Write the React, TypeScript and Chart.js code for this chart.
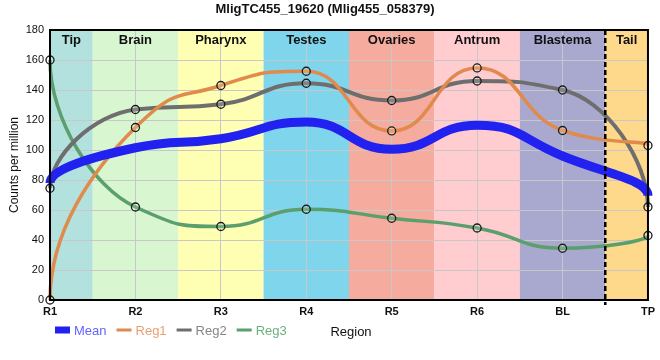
import React, { useEffect, useRef } from "react";
import { Chart, registerables } from "chart.js";

Chart.register(...registerables);

const chartTitle = "MligTC455_19620 (Mlig455_058379)";
const regions = ["R1", "R2", "R3", "R4", "R5", "R6", "BL", "TP"];
const meanValues = [78, 101.5, 107.5, 118.7, 100.5, 116.5, 96, 69.5];
const reg1Values = [0, 115, 143, 152.5, 112.7, 154.7, 113, 103];
const reg2Values = [74.5, 127, 130.5, 144.5, 133, 146, 140, 62];
const reg3Values = [160, 62, 49, 60.5, 54.5, 48, 34.5, 43];
const bandNames = ["Tip", "Brain", "Pharynx", "Testes", "Ovaries", "Antrum", "Blastema", "Tail"];
const bandColors = ["#b3e1de", "#d8f6cf", "#ffffb4", "#7fd5ec", "#f5ab9e", "#ffcccf", "#a9a9d0", "#ffd98b"];
const seriesNames = ["Mean", "Reg1", "Reg2", "Reg3"];
const seriesColors = ["#2222f0", "#e08a4c", "#6e6e6e", "#5a9f6c"];
const legendTextColors = ["#6464ff", "#e8a070", "#858585", "#6cb07e"];
const yMin = 0;
const yMax = 180;
const yStep = 20;

const FONT = "'Liberation Sans', Arial, sans-serif";

// monotone (Steffen) tangents at interior points
function interiorTangents(xs: number[], ys: number[]): number[] {
  const n = xs.length;
  const t = new Array(n).fill(0);
  const sign = (v: number) => (v < 0 ? -1 : 1);
  for (let i = 1; i < n - 1; i++) {
    const h0 = xs[i] - xs[i - 1];
    const h1 = xs[i + 1] - xs[i];
    const s0 = (ys[i] - ys[i - 1]) / h0;
    const s1 = (ys[i + 1] - ys[i]) / h1;
    const p = (s0 * h1 + s1 * h0) / (h0 + h1);
    t[i] = (sign(s0) + sign(s1)) * Math.min(Math.abs(s0), Math.abs(s1), 0.5 * Math.abs(p)) || 0;
  }
  return t;
}

const HANDLE = 0.5;
const END_HANDLE = 0.4;

const curvePlugin = {
  id: "smoothCurve",
  beforeDatasetsDraw(chart: any) {
    chart.data.datasets.forEach((_: any, di: number) => {
      const meta = chart.getDatasetMeta(di);
      if (!meta || !meta.dataset) return;
      meta.dataset.updateControlPoints(chart.chartArea, "x");
      const pts = meta.data;
      const n = pts.length;
      if (n < 3) return;
      const xs = pts.map((p: any) => p.x);
      const ys = pts.map((p: any) => p.y);
      const t = interiorTangents(xs, ys);
      for (let i = 1; i < n - 1; i++) {
        const hp = xs[i] - xs[i - 1];
        const hn = xs[i + 1] - xs[i];
        pts[i].cp1x = xs[i] - HANDLE * hp;
        pts[i].cp1y = ys[i] - HANDLE * hp * t[i];
        pts[i].cp2x = xs[i] + HANDLE * hn;
        pts[i].cp2y = ys[i] + HANDLE * hn * t[i];
      }
      pts[0].cp2x = xs[0];
      pts[0].cp2y = ys[0] + END_HANDLE * (ys[1] - ys[0]);
      pts[0].cp1x = xs[0];
      pts[0].cp1y = ys[0];
      pts[n - 1].cp1x = xs[n - 1];
      pts[n - 1].cp1y = ys[n - 1] + END_HANDLE * (ys[n - 2] - ys[n - 1]);
      pts[n - 1].cp2x = xs[n - 1];
      pts[n - 1].cp2y = ys[n - 1];
    });
  },
};

const decorPlugin = {
  id: "decor",
  beforeDraw(chart: any) {
    const { ctx, chartArea } = chart;
    const x = chart.scales.x;
    const n = regions.length;
    ctx.save();
    for (let i = 0; i < bandNames.length; i++) {
      const a = x.getPixelForValue(Math.max(i - 0.5, 0));
      const b = x.getPixelForValue(Math.min(i + 0.5, n - 1));
      ctx.fillStyle = bandColors[i];
      ctx.fillRect(a, chartArea.top, b - a, chartArea.bottom - chartArea.top);
    }
    ctx.restore();
  },
  beforeDatasetsDraw(chart: any) {
    const { ctx, chartArea } = chart;
    const x = chart.scales.x;
    const n = regions.length;
    ctx.save();
    ctx.font = `bold 13px ${FONT}`;
    ctx.fillStyle = "#111";
    ctx.textAlign = "center";
    ctx.textBaseline = "middle";
    for (let i = 0; i < bandNames.length; i++) {
      const a = x.getPixelForValue(Math.max(i - 0.5, 0));
      const b = x.getPixelForValue(Math.min(i + 0.5, n - 1));
      ctx.fillText(bandNames[i], (a + b) / 2, chartArea.top + 10);
    }
    ctx.restore();
  },
  afterDatasetsDraw(chart: any) {
    const { ctx, chartArea } = chart;
    const x = chart.scales.x;
    ctx.save();
    const dx = x.getPixelForValue(regions.length - 1.5);
    ctx.strokeStyle = "#000";
    ctx.lineWidth = 2.5;
    ctx.setLineDash([5, 3]);
    ctx.beginPath();
    ctx.moveTo(dx, chartArea.top);
    ctx.lineTo(dx, chartArea.bottom + 5);
    ctx.stroke();
    ctx.setLineDash([]);
    ctx.lineWidth = 2;
    ctx.strokeRect(chartArea.left, chartArea.top, chartArea.right - chartArea.left, chartArea.bottom - chartArea.top);
    ctx.restore();
  },
  afterDraw(chart: any) {
    const { ctx } = chart;
    ctx.save();
    ctx.font = `13px ${FONT}`;
    ctx.textBaseline = "middle";
    ctx.textAlign = "left";
    let lx = 55;
    const ly = 330;
    for (let i = 0; i < seriesNames.length; i++) {
      ctx.strokeStyle = seriesColors[i];
      ctx.lineWidth = i === 0 ? 7 : 3;
      ctx.beginPath();
      ctx.moveTo(lx, ly);
      ctx.lineTo(lx + 15, ly);
      ctx.stroke();
      ctx.fillStyle = legendTextColors[i];
      ctx.fillText(seriesNames[i], lx + 19, ly + 1);
      lx += 19 + ctx.measureText(seriesNames[i]).width + 10;
    }
    ctx.fillStyle = "#111";
    ctx.textAlign = "center";
    ctx.fillText("Region", 351, ly + 2);
    ctx.restore();
  },
};

export default function App() {
  const canvasRef = useRef<HTMLCanvasElement | null>(null);

  useEffect(() => {
    const canvas = canvasRef.current;
    if (!canvas) return;
    const pointStyle = {
      pointRadius: 4,
      pointBackgroundColor: "rgba(255,255,255,0.15)",
      pointBorderColor: "#1a1a1a",
      pointBorderWidth: 1.3,
    };
    const chart = new Chart(canvas, {
      type: "line",
      data: {
        labels: regions,
        datasets: [
          {
            label: seriesNames[0],
            data: meanValues,
            borderColor: seriesColors[0],
            borderWidth: 9,
            pointRadius: 0,
            cubicInterpolationMode: "monotone",
            clip: false as any,
          },
          {
            label: seriesNames[1],
            data: reg1Values,
            borderColor: seriesColors[1],
            borderWidth: 3.5,
            cubicInterpolationMode: "monotone",
            clip: false as any,
            ...pointStyle,
          },
          {
            label: seriesNames[2],
            data: reg2Values,
            borderColor: seriesColors[2],
            borderWidth: 4,
            cubicInterpolationMode: "monotone",
            clip: false as any,
            ...pointStyle,
          },
          {
            label: seriesNames[3],
            data: reg3Values,
            borderColor: seriesColors[3],
            borderWidth: 3.5,
            cubicInterpolationMode: "monotone",
            clip: false as any,
            ...pointStyle,
          },
        ],
      },
      options: {
        responsive: false,
        animation: false,
        layout: { padding: { top: 0, bottom: 38, left: 0, right: 10 } },
        plugins: {
          legend: { display: false },
          tooltip: { enabled: false },
          title: {
            display: true,
            text: chartTitle,
            color: "#111",
            font: { family: FONT, size: 13, weight: "bold" },
            padding: { top: 2, bottom: 12.4 },
          },
        },
        scales: {
          x: {
            type: "category",
            offset: false,
            grid: { color: "#c8c8c8", drawTicks: false },
            border: { display: false },
            ticks: { color: "#111", font: { family: FONT, size: 11, weight: "bold" }, padding: 5, maxRotation: 0 },
            afterFit(scale: any) {
              scale.height = 22;
            },
          },
          y: {
            min: yMin,
            max: yMax,
            grid: { color: "#c8c8c8", drawTicks: false },
            border: { display: false },
            ticks: { stepSize: yStep, color: "#111", font: { family: FONT, size: 11 }, padding: 6 },
            title: {
              display: true,
              text: "Counts per million",
              color: "#111",
              font: { family: FONT, size: 12 },
              padding: { top: 7, bottom: 0 },
            },
            afterFit(scale: any) {
              scale.width = 50;
            },
          },
        },
      },
      plugins: [decorPlugin, curvePlugin],
    });
    return () => chart.destroy();
  }, []);

  return (
    <div style={{ position: "absolute", left: 0, top: 0, width: 660, height: 360, background: "#fff" }}>
      <canvas ref={canvasRef} width={660} height={360} style={{ display: "block" }} />
    </div>
  );
}
